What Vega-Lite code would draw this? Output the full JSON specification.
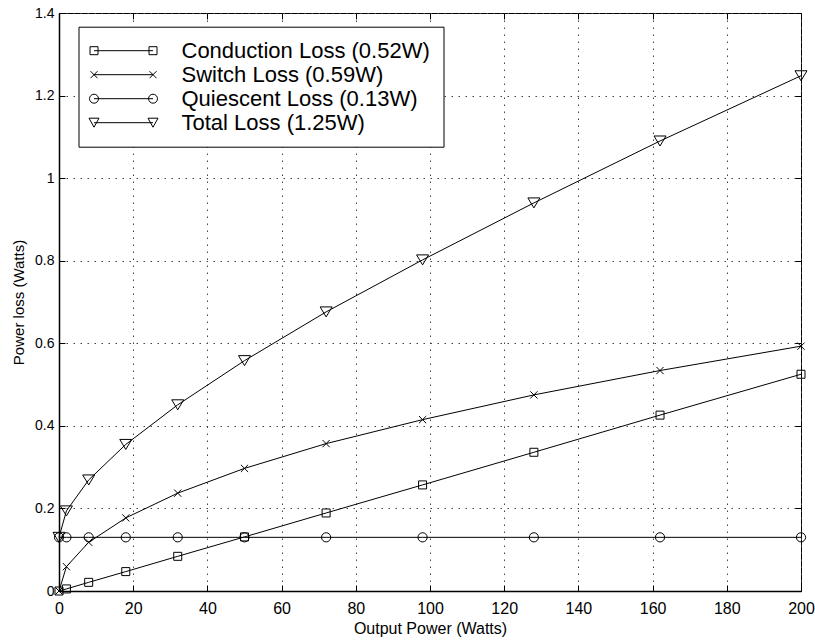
{
  "$schema": "https://vega.github.io/schema/vega-lite/v6.json",
  "width": 742,
  "height": 578,
  "autosize": {"type": "none"},
  "padding": {"left": 59, "top": 13, "right": 14, "bottom": 51},
  "background": "white",
  "config": {"view": {"stroke": "black", "strokeWidth": 1}, "font": "Liberation Sans"},
  "data": {"values": [
    {"x": 0, "y": 0, "series": "Conduction Loss (0.52W)"},
    {"x": 2, "y": 0.005, "series": "Conduction Loss (0.52W)"},
    {"x": 8, "y": 0.021, "series": "Conduction Loss (0.52W)"},
    {"x": 18, "y": 0.047, "series": "Conduction Loss (0.52W)"},
    {"x": 32, "y": 0.084, "series": "Conduction Loss (0.52W)"},
    {"x": 50, "y": 0.131, "series": "Conduction Loss (0.52W)"},
    {"x": 72, "y": 0.189, "series": "Conduction Loss (0.52W)"},
    {"x": 98, "y": 0.257, "series": "Conduction Loss (0.52W)"},
    {"x": 128, "y": 0.336, "series": "Conduction Loss (0.52W)"},
    {"x": 162, "y": 0.426, "series": "Conduction Loss (0.52W)"},
    {"x": 200, "y": 0.525, "series": "Conduction Loss (0.52W)"},
    {"x": 0, "y": 0, "series": "Switch Loss (0.59W)"},
    {"x": 2, "y": 0.059, "series": "Switch Loss (0.59W)"},
    {"x": 8, "y": 0.118, "series": "Switch Loss (0.59W)"},
    {"x": 18, "y": 0.177, "series": "Switch Loss (0.59W)"},
    {"x": 32, "y": 0.237, "series": "Switch Loss (0.59W)"},
    {"x": 50, "y": 0.297, "series": "Switch Loss (0.59W)"},
    {"x": 72, "y": 0.357, "series": "Switch Loss (0.59W)"},
    {"x": 98, "y": 0.415, "series": "Switch Loss (0.59W)"},
    {"x": 128, "y": 0.475, "series": "Switch Loss (0.59W)"},
    {"x": 162, "y": 0.534, "series": "Switch Loss (0.59W)"},
    {"x": 200, "y": 0.593, "series": "Switch Loss (0.59W)"},
    {"x": 0, "y": 0.13, "series": "Quiescent Loss (0.13W)"},
    {"x": 2, "y": 0.13, "series": "Quiescent Loss (0.13W)"},
    {"x": 8, "y": 0.13, "series": "Quiescent Loss (0.13W)"},
    {"x": 18, "y": 0.13, "series": "Quiescent Loss (0.13W)"},
    {"x": 32, "y": 0.13, "series": "Quiescent Loss (0.13W)"},
    {"x": 50, "y": 0.13, "series": "Quiescent Loss (0.13W)"},
    {"x": 72, "y": 0.13, "series": "Quiescent Loss (0.13W)"},
    {"x": 98, "y": 0.13, "series": "Quiescent Loss (0.13W)"},
    {"x": 128, "y": 0.13, "series": "Quiescent Loss (0.13W)"},
    {"x": 162, "y": 0.13, "series": "Quiescent Loss (0.13W)"},
    {"x": 200, "y": 0.13, "series": "Quiescent Loss (0.13W)"},
    {"x": 0, "y": 0.13, "series": "Total Loss (1.25W)"},
    {"x": 2, "y": 0.194, "series": "Total Loss (1.25W)"},
    {"x": 8, "y": 0.269, "series": "Total Loss (1.25W)"},
    {"x": 18, "y": 0.355, "series": "Total Loss (1.25W)"},
    {"x": 32, "y": 0.451, "series": "Total Loss (1.25W)"},
    {"x": 50, "y": 0.558, "series": "Total Loss (1.25W)"},
    {"x": 72, "y": 0.676, "series": "Total Loss (1.25W)"},
    {"x": 98, "y": 0.802, "series": "Total Loss (1.25W)"},
    {"x": 128, "y": 0.94, "series": "Total Loss (1.25W)"},
    {"x": 162, "y": 1.09, "series": "Total Loss (1.25W)"},
    {"x": 200, "y": 1.248, "series": "Total Loss (1.25W)"}
  ]},
  "layer": [
    {
      "mark": {"type": "line", "color": "black", "strokeWidth": 1},
      "encoding": {
        "x": {"field": "x", "type": "quantitative", "scale": {"domain": [0, 200], "nice": false},
          "axis": {"title": "Output Power (Watts)", "values": [0, 20, 40, 60, 80, 100, 120, 140, 160, 180, 200],
            "tickSize": -6, "tickColor": "black", "labelPadding": 15, "labelFontSize": 16, "labelColor": "black",
            "labelFlush": false, "labelOverlap": false,
            "grid": true, "gridColor": "#444", "gridDash": [1.5, 5.5], "gridWidth": 1,
            "domainColor": "black", "domainWidth": 1.5,
            "titleFontSize": 16, "titleFontWeight": "normal", "titleColor": "black", "titleY": 42, "titleBaseline": "alphabetic"}},
        "y": {"field": "y", "type": "quantitative", "scale": {"domain": [0, 1.4], "nice": false},
          "axis": {"title": "Power loss (Watts)", "values": [0, 0.2, 0.4, 0.6, 0.8, 1, 1.2, 1.4], "format": "~g",
            "tickSize": -6, "tickColor": "black", "labelPadding": 11, "labelFontSize": 14, "labelColor": "black",
            "labelFlush": false, "labelOverlap": false,
            "grid": true, "gridColor": "#444", "gridDash": [1.5, 5.5], "gridWidth": 1,
            "domainColor": "black", "domainWidth": 1.5,
            "titleFontSize": 15, "titleFontWeight": "normal", "titleColor": "black", "titleX": -36, "titleAngle": 270, "titleBaseline": "alphabetic"}},
        "detail": {"field": "series"}
      }
    },
    {
      "mark": {"type": "point", "filled": false, "stroke": "black", "strokeWidth": 1, "size": 64, "opacity": 1},
      "encoding": {
        "x": {"field": "x", "type": "quantitative",
          "axis": {"orient": "top", "labels": false, "grid": false, "domain": false, "tickSize": -6, "tickColor": "black",
            "values": [0, 20, 40, 60, 80, 100, 120, 140, 160, 180, 200], "title": null}},
        "y": {"field": "y", "type": "quantitative",
          "axis": {"orient": "right", "labels": false, "grid": false, "domain": false, "tickSize": -6, "tickColor": "black",
            "values": [0, 0.2, 0.4, 0.6, 0.8, 1, 1.2, 1.4], "title": null}},
        "shape": {"field": "series", "type": "nominal",
          "scale": {"domain": ["Conduction Loss (0.52W)", "Switch Loss (0.59W)", "Quiescent Loss (0.13W)", "Total Loss (1.25W)"],
            "range": ["M-1,-1H1V1H-1Z", "M-0.9,-0.9L0.9,0.9M-0.9,0.9L0.9,-0.9", "M-1.15,0A1.15,1.15,0,1,0,1.15,0A1.15,1.15,0,1,0,-1.15,0", "M-1.5,-1.25H1.5L0,1.25Z"]},
          "legend": null}
      }
    },
    {
      "transform": [{"filter": "datum.x < 0"}],
      "mark": {"type": "point", "filled": false, "color": "black", "strokeWidth": 1, "opacity": 1},
      "encoding": {
        "x": {"field": "x", "type": "quantitative", "axis": null},
        "y": {"field": "y", "type": "quantitative", "axis": null},
        "shape": {"field": "series", "type": "nominal",
          "scale": {"domain": ["Conduction Loss (0.52W)", "Switch Loss (0.59W)", "Quiescent Loss (0.13W)", "Total Loss (1.25W)"],
            "range": [
              "M-4,-4H4V4H-4ZM0,0H59M55,-4H63V4H55Z",
              "M-3.5,-3.5L3.5,3.5M-3.5,3.5L3.5,-3.5M0,0H59M55.5,-3.5L62.5,3.5M55.5,3.5L62.5,-3.5",
              "M-4.5,0A4.5,4.5,0,1,0,4.5,0A4.5,4.5,0,1,0,-4.5,0M0,0H59M54.5,0A4.5,4.5,0,1,0,63.5,0A4.5,4.5,0,1,0,54.5,0",
              "M-5,-4.5H5L0,4.5ZM0,0H59M54,-4.5H64L59,4.5Z"]},
          "legend": {"orient": "none", "legendX": 19.5, "legendY": 13.7, "direction": "vertical", "title": null,
            "padding": 13, "strokeColor": "black", "fillColor": "white",
            "labelFontSize": 22, "labelFont": "Liberation Sans", "labelColor": "black", "labelOffset": 76.5, "labelLimit": 500,
            "symbolOffset": -8.5, "symbolSize": 4, "rowPadding": 2, "symbolOpacity": 1,
            "symbolStrokeColor": "black", "symbolFillColor": "transparent", "symbolStrokeWidth": 1,
            "encode": {"legend": {"strokeWidth": {"value": 1.5}}}}
        }
      }
    }
  ],
  "resolve": {"axis": {"x": "independent", "y": "independent"}, "scale": {"shape": "independent"}}
}
